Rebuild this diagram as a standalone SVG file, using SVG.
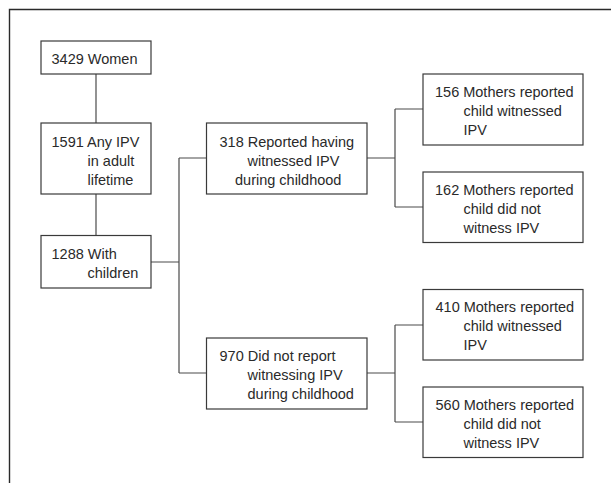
<svg xmlns="http://www.w3.org/2000/svg" width="611" height="483" viewBox="0 0 611 483">
<style>
.box{fill:#fff;stroke:#3a3a3a;stroke-width:1.2}
.ln{fill:none;stroke:#4a4a4a;stroke-width:1.2}
.frame{fill:none;stroke:#2a2a2a;stroke-width:1.4}
text{font-family:"Liberation Sans",Arial,sans-serif;font-size:14.5px;fill:#2a2a2a}
</style>
<rect width="611" height="483" fill="#fff"/>
<path class="frame" d="M9.5,483 V9.5 H611"/>
<g id="connectors">
<path class="ln" d="M96,74 V123"/>
<path class="ln" d="M96,194 V235"/>
<path class="ln" d="M151,262 H179 M179,158 V373 M179,158 H206 M179,373 H206"/>
<path class="ln" d="M367,158 H395 M395,109 V207 M395,109 H423 M395,207 H423"/>
<path class="ln" d="M367,373 H395 M395,325 V422 M395,325 H423 M395,422 H423"/>
</g>
<g id="n3429">
<rect class="box" x="41" y="41" width="110" height="33"/>
<text x="51.5" y="64">3429 Women</text>
</g>
<g id="n1591">
<rect class="box" x="41" y="123" width="110" height="71"/>
<text x="51.5" y="146.5">1591 Any IPV</text>
<text x="87.5" y="165.5">in adult</text>
<text x="87.5" y="184.5">lifetime</text>
</g>
<g id="n1288">
<rect class="box" x="41" y="235.5" width="110" height="52.5"/>
<text x="51.5" y="258.5">1288 With</text>
<text x="87.5" y="277.5">children</text>
</g>
<g id="n318">
<rect class="box" x="206.5" y="123" width="160.5" height="71"/>
<text x="219.5" y="146.5">318 Reported having</text>
<text x="247.5" y="165.5">witnessed IPV</text>
<text x="235" y="184.5">during childhood</text>
</g>
<g id="n970">
<rect class="box" x="206.5" y="338" width="160.5" height="71"/>
<text x="219.5" y="360.5">970 Did not report</text>
<text x="247.5" y="379.5">witnessing IPV</text>
<text x="247.5" y="398.5">during childhood</text>
</g>
<g id="n156">
<rect class="box" x="423" y="74" width="160" height="71"/>
<text x="435" y="97">156 Mothers reported</text>
<text x="463.5" y="116">child witnessed</text>
<text x="463.5" y="135">IPV</text>
</g>
<g id="n162">
<rect class="box" x="423" y="172" width="160" height="70.5"/>
<text x="435" y="194.5">162 Mothers reported</text>
<text x="463.5" y="213.5">child did not</text>
<text x="463.5" y="232.5">witness IPV</text>
</g>
<g id="n410">
<rect class="box" x="423" y="289.5" width="160" height="70.5"/>
<text x="435.5" y="312">410 Mothers reported</text>
<text x="463.5" y="331">child witnessed</text>
<text x="463.5" y="350">IPV</text>
</g>
<g id="n560">
<rect class="box" x="423" y="387" width="160" height="70.5"/>
<text x="435.5" y="409.5">560 Mothers reported</text>
<text x="463.5" y="428.5">child did not</text>
<text x="463.5" y="447.5">witness IPV</text>
</g>
</svg>
